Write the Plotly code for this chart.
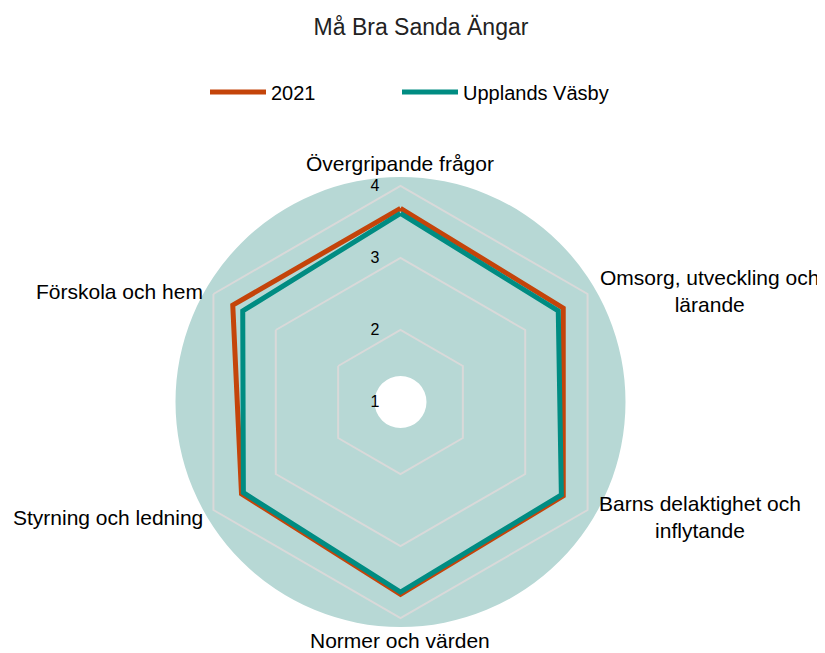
import plotly.graph_objects as go

categories = ["Övergripande frågor", "Omsorg, utveckling och lärande",
              "Barns delaktighet och inflytande", "Normer och värden",
              "Styrning och ledning", "Förskola och hem"]
category_labels = ["Övergripande frågor", "Omsorg, utveckling och<br>lärande",
                   "Barns delaktighet och<br>inflytande", "Normer och värden",
                   "Styrning och ledning", "Förskola och hem"]
values_2021 = [3.69, 3.61, 3.61, 3.67, 3.55, 3.69]
values_uv = [3.62, 3.53, 3.58, 3.64, 3.52, 3.53]
radial_ticks = [1, 2, 3, 4]

OFF = 8  # page body margin
W, H = 817, 645
cx, cy, R = 400.5 - OFF, 402 - OFF, 225
hole_r = 26

def px(x):
    return (x - OFF) / W

def py(y):
    return 1 - (y - OFF) / H

def close(a):
    return a + a[:1]

fig = go.Figure()
fig.add_trace(go.Scatterpolar(r=close(values_2021), theta=close(categories), name="2021",
                              mode="lines", line=dict(color="#C4440A", width=5), legend="legend",
                              showlegend=True))
fig.add_trace(go.Scatterpolar(r=close(values_uv), theta=close(categories), name="Upplands Väsby",
                              mode="lines", line=dict(color="#008C82", width=5), legend="legend2",
                              showlegend=True))

# category label placement (screen px): x, y, xanchor
label_pos = [(400, 163, "center"), (709, 291, "center"), (700, 517, "center"),
             (400, 640, "center"), (205, 517, "right"), (205, 291, "right")]
annotations = []
for lab, (x, y, xa) in zip(category_labels, label_pos):
    annotations.append(dict(text=lab, x=px(x), y=py(y), xref="paper", yref="paper",
                            xanchor=xa, yanchor="middle", showarrow=False, align="center",
                            font=dict(size=21, color="#000")))

legend_common = dict(orientation="h", xanchor="left", y=py(92), yanchor="middle",
                     font=dict(size=20), itemwidth=56, bgcolor="rgba(0,0,0,0)")

fig.update_layout(
    width=W, height=H,
    margin=dict(l=0, r=0, t=0, b=0),
    paper_bgcolor="white",
    showlegend=True,
    font=dict(family="Liberation Sans, Arial", size=16, color="#000"),
    title=dict(text="Må Bra Sanda Ängar", x=px(421), xanchor="center", y=py(27), yanchor="middle",
               font=dict(size=23, color="#222")),
    legend=dict(x=px(205), visible=True, **legend_common),
    legend2=dict(x=px(397), visible=True, **legend_common),
    annotations=annotations,
    polar=dict(
        domain=dict(x=[(cx - R) / W, (cx + R) / W], y=[(H - cy - R) / H, (H - cy + R) / H]),
        bgcolor="rgba(0,0,0,0)",
        gridshape="linear",
        angularaxis=dict(rotation=90, direction="clockwise", showgrid=False, showline=False,
                         ticks="", showticklabels=False),
        radialaxis=dict(range=[1, 4.125], tickvals=radial_ticks, angle=90, tickangle=90,
                        showline=False, gridcolor="#D9D9D9", gridwidth=1.5,
                        ticks="outside", ticklen=15, tickcolor="rgba(0,0,0,0)",
                        tickfont=dict(size=16), side="counterclockwise"),
    ),
    shapes=[
        dict(type="circle", xref="paper", yref="paper", layer="below",
             x0=(cx - R) / W, x1=(cx + R) / W, y0=(H - cy - R) / H, y1=(H - cy + R) / H,
             fillcolor="#B7D8D5", line=dict(width=0)),
        dict(type="circle", xref="paper", yref="paper", layer="below",
             x0=(cx - hole_r) / W, x1=(cx + hole_r) / W, y0=(H - cy - hole_r) / H, y1=(H - cy + hole_r) / H,
             fillcolor="white", line=dict(width=0)),
    ],
)

fig.write_html("out.html")
